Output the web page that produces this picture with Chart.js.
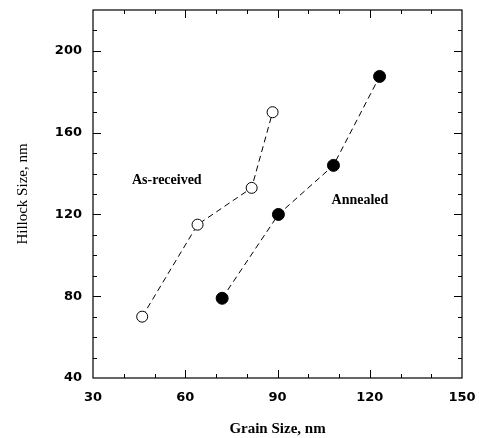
<!DOCTYPE html>
<html>
<head>
<meta charset="utf-8">
<script src="https://cdn.jsdelivr.net/npm/chart.js@4/dist/chart.umd.min.js"></script>
<style>
html,body{margin:0;padding:0;background:#fff;}
#wrap{width:479px;height:438px;position:relative;}
</style>
</head>
<body>
<div id="wrap"><canvas id="c" width="479" height="438"></canvas></div>
<script>
// Data
const asReceivedGrain = [46, 64, 81.6, 88.4];
const asReceivedHillock = [70, 115, 133, 170];
const annealedGrain = [72, 90.3, 108.2, 123.2];
const annealedHillock = [79, 120, 144, 187.5];
const xTickLabels = [30, 60, 90, 120, 150];
const yTickLabels = [40, 80, 120, 160, 200];
const annotations = [
  {text: 'As-received', x: 54, y: 136.5},
  {text: 'Annealed', x: 116.8, y: 127}
];

const toPts = (xs, ys) => xs.map((x, i) => ({x: x, y: ys[i]}));

const frameTicks = {
  id: 'frameTicks',
  afterDatasetsDraw(chart) {
    const ctx = chart.ctx;
    const a = chart.chartArea;
    const xs = chart.scales.x, ys = chart.scales.y;
    ctx.save();
    ctx.strokeStyle = '#000';
    ctx.lineWidth = 1.2;
    ctx.strokeRect(a.left, a.top, a.right - a.left, a.bottom - a.top);
    ctx.lineWidth = 1;
    ctx.beginPath();
    for (let v = xs.min + 10; v < xs.max; v += 10) {
      const p = Math.round(xs.getPixelForValue(v)) + 0.5;
      const len = xTickLabels.includes(v) ? 8 : 4;
      ctx.moveTo(p, a.bottom); ctx.lineTo(p, a.bottom - len);
      ctx.moveTo(p, a.top); ctx.lineTo(p, a.top + len);
    }
    for (let v = ys.min + 10; v < ys.max; v += 10) {
      const p = Math.round(ys.getPixelForValue(v)) + 0.5;
      const len = yTickLabels.includes(v) ? 8 : 4;
      ctx.moveTo(a.left, p); ctx.lineTo(a.left + len, p);
      ctx.moveTo(a.right, p); ctx.lineTo(a.right - len, p);
    }
    ctx.stroke();
    ctx.fillStyle = '#000';
    ctx.font = 'bold 14px "Liberation Serif", serif';
    ctx.textAlign = 'center';
    ctx.textBaseline = 'middle';
    annotations.forEach(t => {
      ctx.fillText(t.text, xs.getPixelForValue(t.x), ys.getPixelForValue(t.y));
    });
    ctx.restore();
  }
};

new Chart(document.getElementById('c'), {
  type: 'scatter',
  data: {
    datasets: [
      {
        label: 'As-received',
        data: toPts(asReceivedGrain, asReceivedHillock),
        showLine: true,
        borderColor: '#000',
        borderWidth: 1,
        borderDash: [6, 4],
        pointRadius: 5.5,
        pointBorderWidth: 1,
        pointBackgroundColor: '#fff',
        pointBorderColor: '#000',
        fill: false
      },
      {
        label: 'Annealed',
        data: toPts(annealedGrain, annealedHillock),
        showLine: true,
        borderColor: '#000',
        borderWidth: 1,
        borderDash: [6, 4],
        pointRadius: 6,
        pointBorderWidth: 1,
        pointBackgroundColor: '#000',
        pointBorderColor: '#000',
        fill: false
      }
    ]
  },
  options: {
    responsive: false,
    animation: false,
    layout: {padding: {left: 0, right: 17, top: 10, bottom: 0}},
    plugins: {legend: {display: false}, tooltip: {enabled: false}},
    scales: {
      x: {
        type: 'linear',
        min: 30, max: 150,
        afterFit(s) { s.height = 60; s.paddingLeft = 0; s.paddingRight = 0; },
        grid: {display: false, drawTicks: false},
        border: {display: false},
        ticks: {
          stepSize: 30,
          autoSkip: false,
          maxRotation: 0,
          padding: 12,
          color: '#000',
          font: {family: '"DejaVu Sans", sans-serif', size: 13, weight: 'bold'}
        },
        title: {
          display: true,
          text: 'Grain Size, nm',
          color: '#000',
          padding: {top: 0, bottom: 0},
          font: {family: '"Liberation Serif", serif', size: 15, weight: 'bold'}
        }
      },
      y: {
        type: 'linear',
        min: 40, max: 220,
        afterFit(s) { s.width = 93; s.paddingTop = 0; s.paddingBottom = 0; },
        grid: {display: false, drawTicks: false},
        border: {display: false},
        ticks: {
          stepSize: 40,
          autoSkip: false,
          padding: 11,
          color: '#000',
          callback: v => (yTickLabels.includes(v) ? String(v) : ''),
          font: {family: '"DejaVu Sans", sans-serif', size: 13, weight: 'bold'}
        },
        title: {
          display: true,
          text: 'Hillock Size, nm',
          color: '#000',
          padding: {top: 14, bottom: 0},
          font: {family: '"Liberation Serif", serif', size: 15, weight: 'normal'}
        }
      }
    }
  },
  plugins: [frameTicks]
});
</script>
</body>
</html>
